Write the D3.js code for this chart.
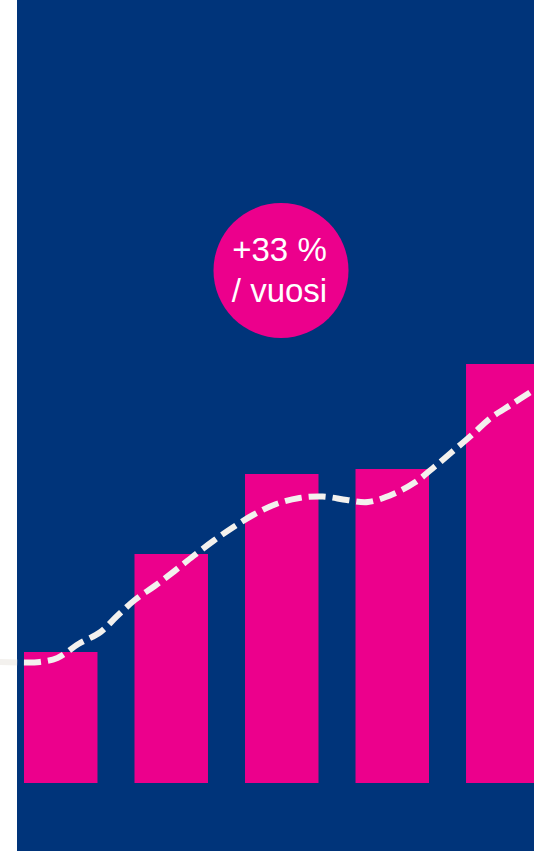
<!DOCTYPE html>
<html>
<head>
<meta charset="utf-8">
<script src="https://cdn.jsdelivr.net/npm/d3@7"></script>
<style>
    body { margin: 0; background: #ffffff; }
    svg { display: block; }
</style>
</head>
<body>
<div class="growth-viz"></div>
<script>
// Bars: one per year (relative units)
const years = ["1", "2", "3", "4", "5"];
const barValues = [13.1, 22.9, 30.9, 31.4, 41.9];

// Trend line: position (in bar units, 0 = first bar) and value
const linePos = [-0.55, -0.37, -0.19, -0.03, 0.16, 0.36, 0.51, 0.67, 0.85, 1.03, 1.2, 1.38, 1.55,
    1.74, 1.95, 2.16, 2.37, 2.59, 2.78, 3.01, 3.21, 3.38, 3.54, 3.72, 3.89, 4.07, 4.28];
const lineValues = [12.1, 12.05, 12.1, 12.5, 13.9, 15.1, 16.7, 18.3, 19.7, 21.2, 22.7, 24.2, 25.5,
    26.8, 27.9, 28.5, 28.65, 28.3, 28.1, 28.9, 30.1, 31.6, 33.1, 34.8, 36.5, 37.8, 39.3];

const badgeLines = ["+33 %", "/ vuosi"];

const total_width = 534;
const total_height = 851;
const panel_left = 17;
const baseline = 783;

const svg = d3.select(".growth-viz")
    .append("svg")
    .attr("width", total_width)
    .attr("height", total_height);

svg.append("rect")
    .attr("x", panel_left)
    .attr("y", 0)
    .attr("width", total_width - panel_left)
    .attr("height", total_height)
    .attr("fill", "#00347a");

const x = d3.scaleBand()
    .domain(years)
    .range([24, 539.5])
    .paddingInner(0.335)
    .paddingOuter(0);

const y = d3.scaleLinear()
    .domain([0, 50])
    .range([baseline, baseline - 500]);

// line positions use bar centres
const xPos = d3.scaleLinear()
    .domain([0, 4])
    .range([x(years[0]) + x.bandwidth() / 2, x(years[4]) + x.bandwidth() / 2]);

svg.selectAll("bar")
    .data(barValues)
    .enter()
    .append("rect")
    .attr("x", (d, i) => x(years[i]))
    .attr("y", d => y(d))
    .attr("width", x.bandwidth())
    .attr("height", d => baseline - y(d))
    .attr("fill", "#ec008c");

const line = d3.line()
    .x(d => xPos(d[0]))
    .y(d => y(d[1]))
    .curve(d3.curveCatmullRom);

svg.append("path")
    .datum(linePos.map((p, i) => [p, lineValues[i]]))
    .attr("d", line)
    .attr("fill", "none")
    .attr("stroke", "#f3f1ee")
    .attr("stroke-width", 6)
    .attr("stroke-dasharray", "17,7");

// badge
svg.append("circle")
    .attr("cx", 281)
    .attr("cy", 270.5)
    .attr("r", 67.5)
    .attr("fill", "#ec008c");

svg.selectAll("badge")
    .data(badgeLines)
    .enter()
    .append("text")
    .text(d => d)
    .attr("x", 279.5)
    .attr("y", (d, i) => 260.5 + i * 41.5)
    .attr("text-anchor", "middle")
    .attr("font-family", "'Liberation Sans', Arial, sans-serif")
    .attr("font-size", "33px")
    .attr("fill", "#ffffff");
</script>
</body>
</html>
